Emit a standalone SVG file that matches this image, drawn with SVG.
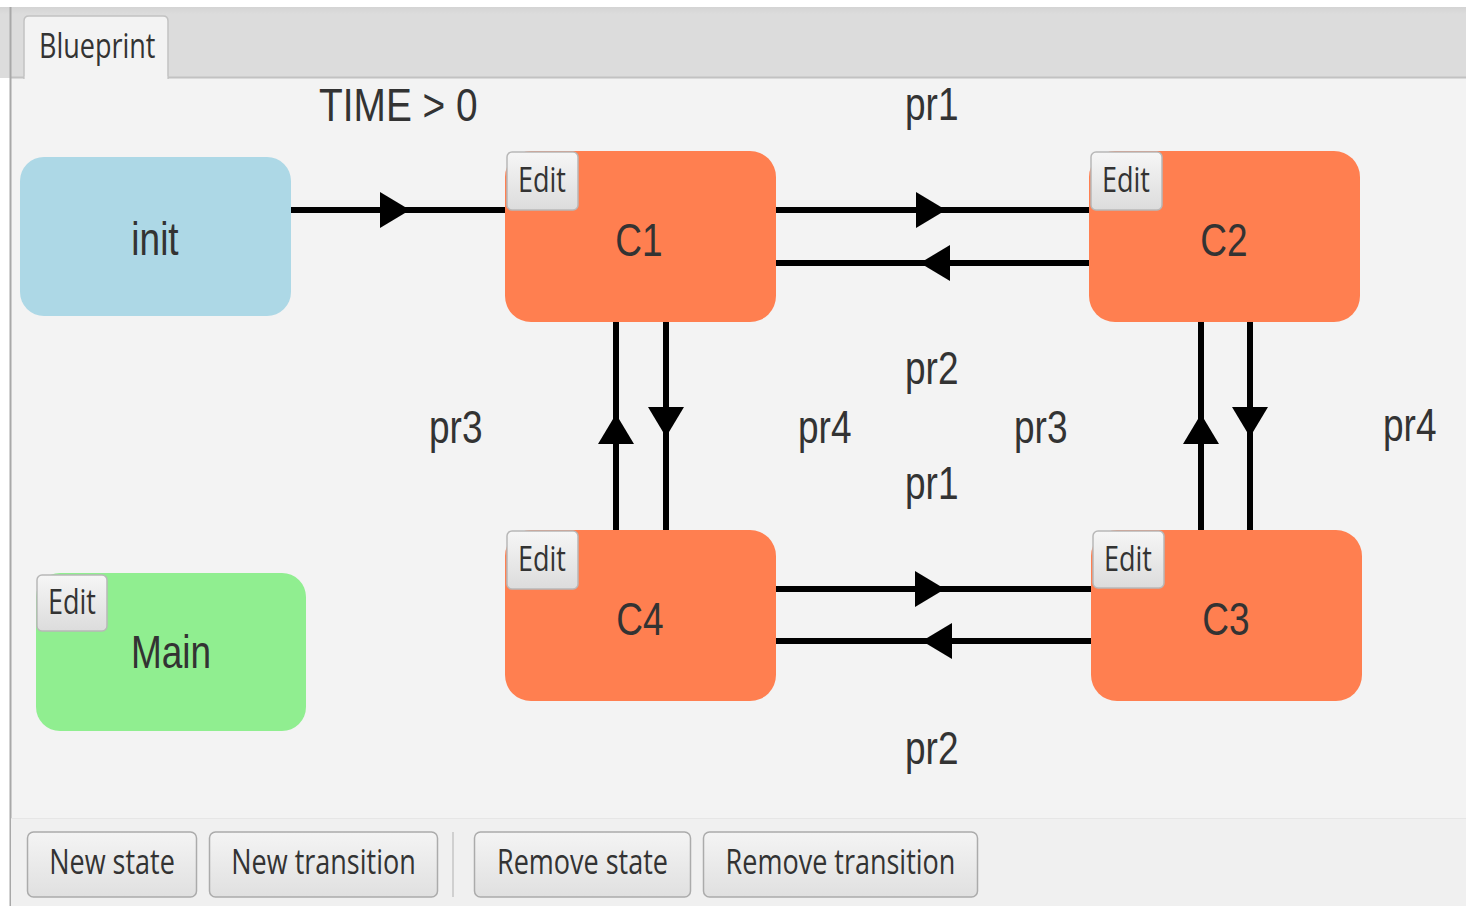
<svg xmlns="http://www.w3.org/2000/svg" width="1466" height="906" viewBox="0 0 1466 906">
  <style>
    .ui { font-family: "Open Sans", "Liberation Sans", sans-serif; font-size: 27px; fill: #333333; }
    .lbl { font-family: "Liberation Sans", Arial, sans-serif; font-size: 37px; fill: #333333; }
    .mid { text-anchor: middle; }
    .state { fill: #ff7f50; }
    .editbtn { fill: url(#btnGrad); stroke: #b8b8b8; stroke-width: 1.5; }
    .toolbtn { fill: url(#toolGrad); stroke: #ababab; stroke-width: 1.5; }
    .edge { fill: none; stroke: #000000; stroke-width: 6; marker-mid: url(#arrow); }
  </style>
  <defs>
    <linearGradient id="btnGrad" x1="0" y1="0" x2="0" y2="1">
      <stop offset="0" stop-color="#f6f6f6"/>
      <stop offset="1" stop-color="#dcdcdc"/>
    </linearGradient>
    <linearGradient id="toolGrad" x1="0" y1="0" x2="0" y2="1">
      <stop offset="0" stop-color="#f4f4f4"/>
      <stop offset="1" stop-color="#e0e0e0"/>
    </linearGradient>
    <linearGradient id="headGrad" x1="0" y1="0" x2="0" y2="1">
      <stop offset="0" stop-color="#d4d4d4"/>
      <stop offset="0.1" stop-color="#dcdcdc"/>
      <stop offset="1" stop-color="#dcdcdc"/>
    </linearGradient>
    <marker id="arrow" markerUnits="userSpaceOnUse" markerWidth="32" markerHeight="38" refX="30" refY="18" orient="auto" overflow="visible">
      <path d="M0,0 L30,18 L0,36 Z" fill="#000000"/>
    </marker>
  </defs>

  <!-- window background -->
  <rect x="0" y="0" width="1466" height="906" fill="#ffffff"/>
  <rect x="0" y="7" width="1466" height="71" fill="url(#headGrad)"/>
  <rect x="10" y="78" width="1456" height="828" fill="#f3f3f3"/>
  <line x1="10" y1="77.5" x2="1466" y2="77.5" stroke="#c2c2c2" stroke-width="2"/>
  <line x1="10.5" y1="7" x2="10.5" y2="906" stroke="#a8a8a8" stroke-width="2"/>

  <!-- tab -->
  <g id="tab-blueprint">
    <path d="M24,79 L24,21 Q24,16 29,16 L163,16 Q168,16 168,21 L168,79" fill="#f3f3f3" stroke="#c2c2c2" stroke-width="1.5"/>
    <rect x="24.8" y="76" width="142.4" height="4" fill="#f3f3f3"/>
    <text class="ui" x="0" y="0" transform="translate(39,58) scale(1,1.25)">Blueprint</text>
  </g>

  <!-- bottom toolbar -->
  <g id="toolbar">
    <rect x="11" y="818" width="1455" height="88" fill="#f0f0f0"/>
    <line x1="11" y1="818.5" x2="1466" y2="818.5" stroke="#e6e6e6" stroke-width="1"/>
    <rect class="toolbtn" x="27.5" y="832" width="169" height="65" rx="6"/>
    <text class="ui mid" x="0" y="0" transform="translate(112,874) scale(1,1.25)">New state</text>
    <rect class="toolbtn" x="209.5" y="832" width="228" height="65" rx="6"/>
    <text class="ui mid" x="0" y="0" transform="translate(323.5,874) scale(1,1.25)">New transition</text>
    <line x1="453" y1="832" x2="453" y2="897" stroke="#d0d0d0" stroke-width="2"/>
    <rect class="toolbtn" x="474.5" y="832" width="216" height="65" rx="6"/>
    <text class="ui mid" x="0" y="0" transform="translate(582.5,874) scale(1,1.25)">Remove state</text>
    <rect class="toolbtn" x="703.5" y="832" width="274" height="65" rx="6"/>
    <text class="ui mid" x="0" y="0" transform="translate(840.5,874) scale(1,1.25)">Remove transition</text>
  </g>

  <!-- transitions -->
  <g id="connectors">
    <path class="edge" d="M291,210 L410,210 L506,210"/>
    <path class="edge" d="M775,210 L946,210 L1090,210"/>
    <path class="edge" d="M1090,263 L920,263 L775,263"/>
    <path class="edge" d="M775,589 L945,589 L1092,589"/>
    <path class="edge" d="M1092,641 L922,641 L775,641"/>
    <path class="edge" d="M616,531 L616,414 L616,321"/>
    <path class="edge" d="M666,321 L666,437 L666,531"/>
    <path class="edge" d="M1201,531 L1201,414 L1201,321"/>
    <path class="edge" d="M1250,321 L1250,437 L1250,531"/>
  </g>

  <!-- transition labels -->
  <g id="labels">
    <text class="lbl" x="0" y="0" transform="translate(319,121) scale(1.05,1.25)">TIME &gt; 0</text>
    <text class="lbl" x="0" y="0" transform="translate(905,120) scale(1,1.25)">pr1</text>
    <text class="lbl" x="0" y="0" transform="translate(905,384) scale(1,1.25)">pr2</text>
    <text class="lbl" x="0" y="0" transform="translate(429,443) scale(1,1.25)">pr3</text>
    <text class="lbl" x="0" y="0" transform="translate(798,443) scale(1,1.25)">pr4</text>
    <text class="lbl" x="0" y="0" transform="translate(1014,443) scale(1,1.25)">pr3</text>
    <text class="lbl" x="0" y="0" transform="translate(905,499) scale(1,1.25)">pr1</text>
    <text class="lbl" x="0" y="0" transform="translate(1383,441) scale(1,1.25)">pr4</text>
    <text class="lbl" x="0" y="0" transform="translate(905,764) scale(1,1.25)">pr2</text>
  </g>

  <!-- states -->
  <g id="state-init">
    <rect x="20" y="157" width="271" height="159" rx="24" fill="#add8e6"/>
    <text class="lbl mid" x="0" y="0" transform="translate(155,255) scale(1,1.25)">init</text>
  </g>

  <g id="state-main">
    <rect x="36" y="573" width="270" height="158" rx="24" fill="#90ee90"/>
    <rect class="editbtn" x="37" y="575" width="70" height="56" rx="5"/>
    <text class="ui" x="0" y="0" transform="translate(48,614) scale(1,1.25)">Edit</text>
    <text class="lbl mid" x="0" y="0" transform="translate(171,668) scale(1,1.25)">Main</text>
  </g>

  <g id="state-c1">
    <rect class="state" x="505" y="151" width="271" height="171" rx="26"/>
    <rect class="editbtn" x="507" y="152" width="71" height="58" rx="5"/>
    <text class="ui" x="0" y="0" transform="translate(518,192) scale(1,1.25)">Edit</text>
    <text class="lbl mid" x="0" y="0" transform="translate(639,256) scale(1,1.25)">C1</text>
  </g>

  <g id="state-c2">
    <rect class="state" x="1089" y="151" width="271" height="171" rx="26"/>
    <rect class="editbtn" x="1091" y="152" width="71" height="58" rx="5"/>
    <text class="ui" x="0" y="0" transform="translate(1102,192) scale(1,1.25)">Edit</text>
    <text class="lbl mid" x="0" y="0" transform="translate(1224,256) scale(1,1.25)">C2</text>
  </g>

  <g id="state-c4">
    <rect class="state" x="505" y="530" width="271" height="171" rx="26"/>
    <rect class="editbtn" x="507" y="531" width="71" height="58" rx="5"/>
    <text class="ui" x="0" y="0" transform="translate(518,571) scale(1,1.25)">Edit</text>
    <text class="lbl mid" x="0" y="0" transform="translate(640,635) scale(1,1.25)">C4</text>
  </g>

  <g id="state-c3">
    <rect class="state" x="1091" y="530" width="271" height="171" rx="26"/>
    <rect class="editbtn" x="1093" y="531" width="71" height="57" rx="5"/>
    <text class="ui" x="0" y="0" transform="translate(1104,571) scale(1,1.25)">Edit</text>
    <text class="lbl mid" x="0" y="0" transform="translate(1226,635) scale(1,1.25)">C3</text>
  </g>
</svg>
